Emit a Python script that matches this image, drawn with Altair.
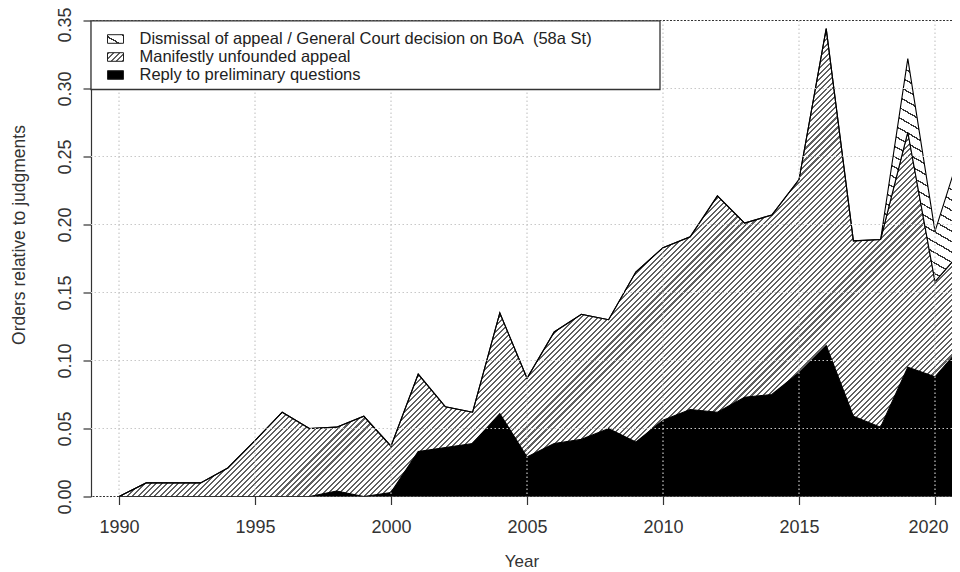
import math
import altair as alt
import pandas as pd

# ---------------- data ----------------
years = list(range(1990, 2022))
reply_to_preliminary = [0.000, 0.000, 0.000, 0.000, 0.000, 0.000, 0.000, 0.000, 0.004, 0.000,
                        0.003, 0.033, 0.036, 0.039, 0.061, 0.029, 0.039, 0.042, 0.050, 0.040,
                        0.056, 0.064, 0.062, 0.073, 0.075, 0.091, 0.111, 0.059, 0.051, 0.095,
                        0.088, 0.111]
manifestly_unfounded = [0.000, 0.010, 0.010, 0.010, 0.021, 0.041, 0.062, 0.050, 0.047, 0.059,
                        0.034, 0.057, 0.030, 0.023, 0.074, 0.058, 0.082, 0.092, 0.080, 0.125,
                        0.127, 0.127, 0.159, 0.128, 0.132, 0.142, 0.233, 0.129, 0.138, 0.173,
                        0.070, 0.070]
dismissal_gc = [0.000, 0.000, 0.000, 0.000, 0.000, 0.000, 0.000, 0.000, 0.000, 0.000,
                0.000, 0.000, 0.000, 0.000, 0.000, 0.000, 0.000, 0.000, 0.000, 0.000,
                0.000, 0.000, 0.000, 0.000, 0.000, 0.000, 0.000, 0.000, 0.000, 0.054,
                0.037, 0.077]

x_ticks = [1990, 1995, 2000, 2005, 2010, 2015, 2020]
y_ticks = [0.00, 0.05, 0.10, 0.15, 0.20, 0.25, 0.30, 0.35]
y_grid = [0.05, 0.10, 0.15, 0.20, 0.25, 0.30]
y_frame = [0.00, 0.35]
legend_labels = ["Dismissal of appeal / General Court decision on BoA\u00a0 (58a St)",
                 "Manifestly unfounded appeal",
                 "Reply to preliminary questions"]

# ---------------- layout ----------------
W, H = 861, 476
X_DOMAIN = [1988.97, 2020.625]
Y_DOMAIN = [0.0, 0.35]
FONT = "Liberation Sans"

df = pd.DataFrame({"year": years, "reply": reply_to_preliminary,
                   "manifest": manifestly_unfounded, "dismissal": dismissal_gc})
df["base"] = 0.0
df["r_top"] = df["reply"]
df["m_top"] = df["r_top"] + df["manifest"]
df["d_top"] = df["m_top"] + df["dismissal"]

px_year = W / (X_DOMAIN[1] - X_DOMAIN[0])
px_unit = H / (Y_DOMAIN[1] - Y_DOMAIN[0])


def hatch(w, h, angle_deg, period, duty, color, bg="white"):
    """Striped linear gradient (objectBoundingBox units) giving hatch lines."""
    th = math.radians(angle_deg)
    nx, ny = math.sin(th), math.cos(th)
    vals = [nx * w * u + ny * h * v for u in (0, 1) for v in (0, 1)]
    lo, hi = min(vals), max(vals)
    L = hi - lo
    ax, ay = nx * w / L, ny * h / L
    a2 = ax * ax + ay * ay
    gx, gy = ax / a2, ay / a2
    t0 = lo / L
    x1, y1 = t0 * gx, t0 * gy
    n = L / period
    stops = [{"offset": 0, "color": bg}]
    k = 0
    while k / n < 1:
        s = round(k / n, 6)
        e = round(min((k + duty) / n, 1), 6)
        stops += [{"offset": s, "color": bg}, {"offset": s, "color": color},
                  {"offset": e, "color": color}, {"offset": e, "color": bg}]
        k += 1
    stops.append({"offset": 1, "color": bg})
    return {"gradient": "linear", "x1": round(x1, 6), "y1": round(y1, 6),
            "x2": round(x1 + gx, 6), "y2": round(y1 + gy, 6), "stops": stops}


span_w = (max(years) - min(years)) * px_year
man_h = (df["m_top"].max() - df["r_top"].min()) * px_unit
dis_h = (df["d_top"].max() - df["m_top"].min()) * px_unit

fill_manifest = hatch(span_w, man_h, 45, 3.9, 0.38, "#606060")
fill_dismissal = hatch(span_w, dis_h, -30, 9.0, 0.15, "#333333")

xs = alt.Scale(domain=X_DOMAIN, nice=False, zero=False)
ys = alt.Scale(domain=Y_DOMAIN, nice=False, zero=False)

x_axis = alt.Axis(values=x_ticks, format="d", grid=False, domain=False,
                  tickSize=8, tickColor="#333", tickWidth=1.2,
                  labelFont=FONT, labelFontSize=18, labelColor="#333",
                  labelPadding=14, labelFlush=False,
                  labelOffset={"condition": {"test": "datum.value >= 2020", "value": -7},
                               "value": 0},
                  titleFont=FONT, titleFontSize=17, titleFontWeight="normal",
                  titleColor="#333", titleBaseline="alphabetic", titleY=70)
y_axis = alt.Axis(values=y_ticks, format=".2f", grid=False, domain=True,
                  domainColor="#333", domainWidth=1.2,
                  tickSize=8, tickColor="#333", tickWidth=1.2,
                  labelFont=FONT, labelFontSize=18, labelColor="#333",
                  labelAngle=270, labelAlign="center", labelBaseline="alphabetic",
                  labelPadding=13, labelFlush=False,
                  labelOffset={"condition": {"test": "datum.value >= 0.35", "value": 4},
                               "value": 0},
                  titleFont=FONT, titleFontSize=17.5, titleFontWeight="normal",
                  titleColor="#333", titleAngle=270, titleAlign="center",
                  titleBaseline="alphabetic", titleX=-66.5, titleY=214)

XT = "Year"
YT = "Orders relative to judgments"


def X(field):
    return alt.X(field, type="quantitative", scale=xs, axis=x_axis, title=XT)


def Y(field):
    return alt.Y(field, type="quantitative", scale=ys, axis=y_axis, title=YT, stack=None)


base = alt.Chart(df)

area_reply = base.mark_area(clip=True, fill="black", stroke="black", strokeWidth=1).encode(
    x=X("year"), y=Y("r_top"), y2="base")
area_manifest = base.mark_area(clip=True, fill=fill_manifest, stroke="black",
                               strokeWidth=1.1).encode(
    x=X("year"), y=Y("m_top"), y2="r_top")
area_dismissal = base.mark_area(clip=True, fill=fill_dismissal, stroke="black",
                                strokeWidth=1.1).encode(
    x=X("year"), y=Y("d_top"), y2="m_top")

grid_v = alt.Chart(pd.DataFrame({"v": x_ticks})).mark_rule(
    color="#c8c8c8", strokeWidth=1.2, strokeDash=[1.5, 2.5]).encode(x=X("v"))
grid_h = alt.Chart(pd.DataFrame({"v": y_grid})).mark_rule(
    color="#c8c8c8", strokeWidth=1.2, strokeDash=[1.5, 2.5]).encode(y=Y("v"))
frame_h = alt.Chart(pd.DataFrame({"v": y_frame})).mark_rule(
    color="#333", strokeWidth=1.1, strokeDash=[2, 1.5]).encode(y=Y("v"))

# ---------------- manual legend ----------------
legend_box = alt.Chart(pd.DataFrame({"k": [0]})).mark_rect(
    fill="white", stroke="#333", strokeWidth=1.3).encode(
    x=alt.value(0), x2=alt.value(569), y=alt.value(0.3), y2=alt.value(69))

row_y = [18.5, 36.5, 54.5]
icon_w, icon_h = 16, 8.6
icon_fills = [hatch(icon_w, icon_h, -30, 9.0, 0.15, "#333333"),
              hatch(icon_w, icon_h, 45, 3.9, 0.38, "#606060"),
              "black"]
legend_layers = []
for lbl, ry, fill in zip(legend_labels, row_y, icon_fills):
    d = pd.DataFrame({"label": [lbl]})
    legend_layers.append(
        alt.Chart(d).mark_rect(fill=fill, stroke="#222", strokeWidth=1).encode(
            x=alt.value(16.5), x2=alt.value(16.5 + icon_w),
            y=alt.value(ry - icon_h / 2), y2=alt.value(ry + icon_h / 2)))
    legend_layers.append(
        alt.Chart(d).mark_text(align="left", baseline="middle", font=FONT,
                               fontSize=16.5, color="#222").encode(
            text="label:N", x=alt.value(48.5), y=alt.value(ry)))

chart = alt.layer(area_reply, area_manifest, area_dismissal, grid_v, grid_h, frame_h,
                  legend_box, *legend_layers).properties(
    width=W, height=H,
    autosize=alt.AutoSizeParams(type="none"),
    padding={"left": 83, "top": 12.5, "right": 0, "bottom": 85},
    background="white",
).configure_view(stroke=None)

chart.save("out.html", embed_options={"renderer": "svg", "actions": False})
